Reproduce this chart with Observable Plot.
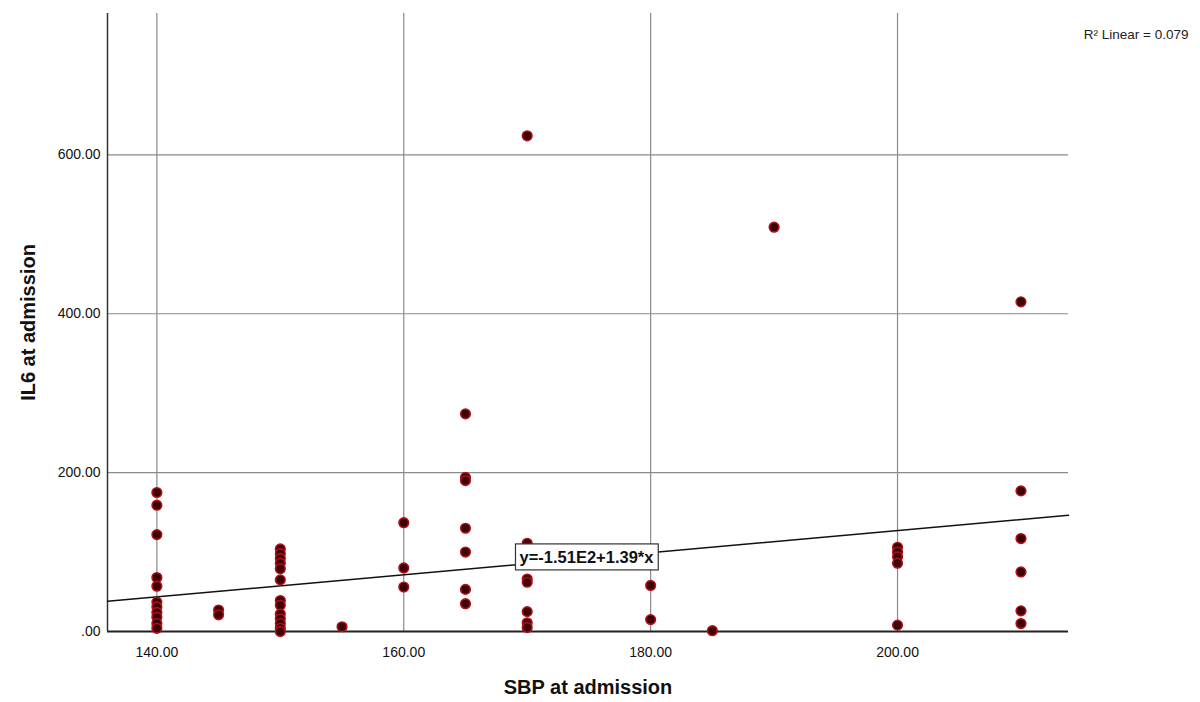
<!DOCTYPE html>
<html>
<head>
<meta charset="utf-8">
<script src="https://cdn.jsdelivr.net/npm/d3@7"></script>
<script src="https://cdn.jsdelivr.net/npm/@observablehq/plot@0.6"></script>
<style>
  body { margin: 0; background: #fff; }
  #chart { position: relative; width: 1200px; height: 702px; }
</style>
</head>
<body>
<div id="chart"></div>
<script>
// SBP at admission (x) and IL6 at admission (y)
const sbp = [
  140,140,140,140,140,140,140,140,140,140,140,
  145,145,
  150,150,150,150,150,150,150,150,150,150,150,150,150,
  155,
  160,160,160,
  165,165,165,165,165,165,165,
  170,170,170,170,170,170,170,
  180,180,
  185,
  190,
  200,200,200,200,200,
  210,210,210,210,210,210
];
const il6 = [
  175,159,122,68,57,37,31,24,18,10,4,
  27,21,
  104,98,92,86,79,65,39,33,22,16,10,4,0,
  6,
  137,80,56,
  274,194,190,130,100,53,35,
  624,111,66,62,25,11,5,
  58,15,
  1,
  509,
  106,100,94,86,8,
  415,177,117,75,26,10
];
const xTicks = [140, 160, 180, 200];
const yTicks = [0, 200, 400, 600];
const fitIntercept = -151;
const fitSlope = 1.39;
const fitLabel = "y=-1.51E2+1.39*x";
const r2Label = "R\u00B2 Linear = 0.079";
const xTitle = "SBP at admission";
const yTitle = "IL6 at admission";

const points = sbp.map((x, i) => ({x, y: il6[i]}));
const xDomain = [136, 213.85];
const yDomain = [0, 778];
const fitLine = xDomain.map(x => ({x, y: fitIntercept + fitSlope * x}));
const fmt = d => d === 0 ? ".00" : d.toFixed(2);

const font = "'Liberation Sans', Arial, sans-serif";

const plot = Plot.plot({
  width: 1200,
  height: 702,
  marginLeft: 107,
  marginRight: 132,
  marginTop: 13,
  marginBottom: 71,
  style: {fontFamily: font, background: "#fff", color: "#000"},
  x: {domain: xDomain},
  y: {domain: yDomain},
  marks: [
    Plot.gridX(xTicks, {stroke: "#8a8a8a", strokeOpacity: 1, strokeWidth: 1.2}),
    Plot.gridY(yTicks.filter(d => d > 0), {stroke: "#8a8a8a", strokeOpacity: 1, strokeWidth: 1.2}),
    Plot.axisX(xTicks, {tickSize: 0, tickPadding: 16, tickFormat: fmt, fontSize: 14, fill: "#111", label: null}),
    Plot.axisY(yTicks, {tickSize: 0, tickPadding: 7, tickFormat: fmt, fontSize: 14, fill: "#111", label: null}),
    Plot.ruleY([0], {stroke: "#222", strokeWidth: 2}),
    Plot.ruleX([xDomain[0]], {stroke: "#333", strokeWidth: 1.5}),
    Plot.line(fitLine, {x: "x", y: "y", stroke: "#111", strokeWidth: 1.5}),
    Plot.dot(points, {x: "x", y: "y", r: 4.8, fill: "#3d0005", stroke: "#b0101a", strokeWidth: 1.6}),
    Plot.text([fitLabel], {x: 174.8, y: 93, text: d => d, fontSize: 16.5, fontWeight: "bold", fill: "#111"}),
    Plot.text([r2Label], {frameAnchor: "top-right", dx: 120, dy: 16, text: d => d, fontSize: 13.5, fill: "#222", textAnchor: "end"}),
    Plot.text([xTitle], {frameAnchor: "bottom", dy: 62, text: d => d, fontSize: 20, fontWeight: "bold", fill: "#111"}),
    Plot.text([yTitle], {frameAnchor: "left", dx: -79, rotate: -90, textAnchor: "middle", text: d => d, fontSize: 20, fontWeight: "bold", fill: "#111"})
  ]
});
document.getElementById("chart").appendChild(plot);

// white box with border behind the regression equation label
const labelGroups = plot.querySelectorAll("g[aria-label='text']");
for (const lg of labelGroups) {
  const t = lg.querySelector("text");
  if (t && t.textContent === fitLabel) {
    const b = t.getBBox();
    const rect = document.createElementNS("http://www.w3.org/2000/svg", "rect");
    rect.setAttribute("x", b.x - 4);
    rect.setAttribute("y", b.y - 4);
    rect.setAttribute("width", b.width + 8);
    rect.setAttribute("height", b.height + 8);
    rect.setAttribute("fill", "#fff");
    rect.setAttribute("stroke", "#333");
    rect.setAttribute("stroke-width", "1.2");
    const tr = t.getAttribute("transform");
    if (tr) rect.setAttribute("transform", tr);
    t.parentNode.insertBefore(rect, t);
  }
}
</script>
</body>
</html>
